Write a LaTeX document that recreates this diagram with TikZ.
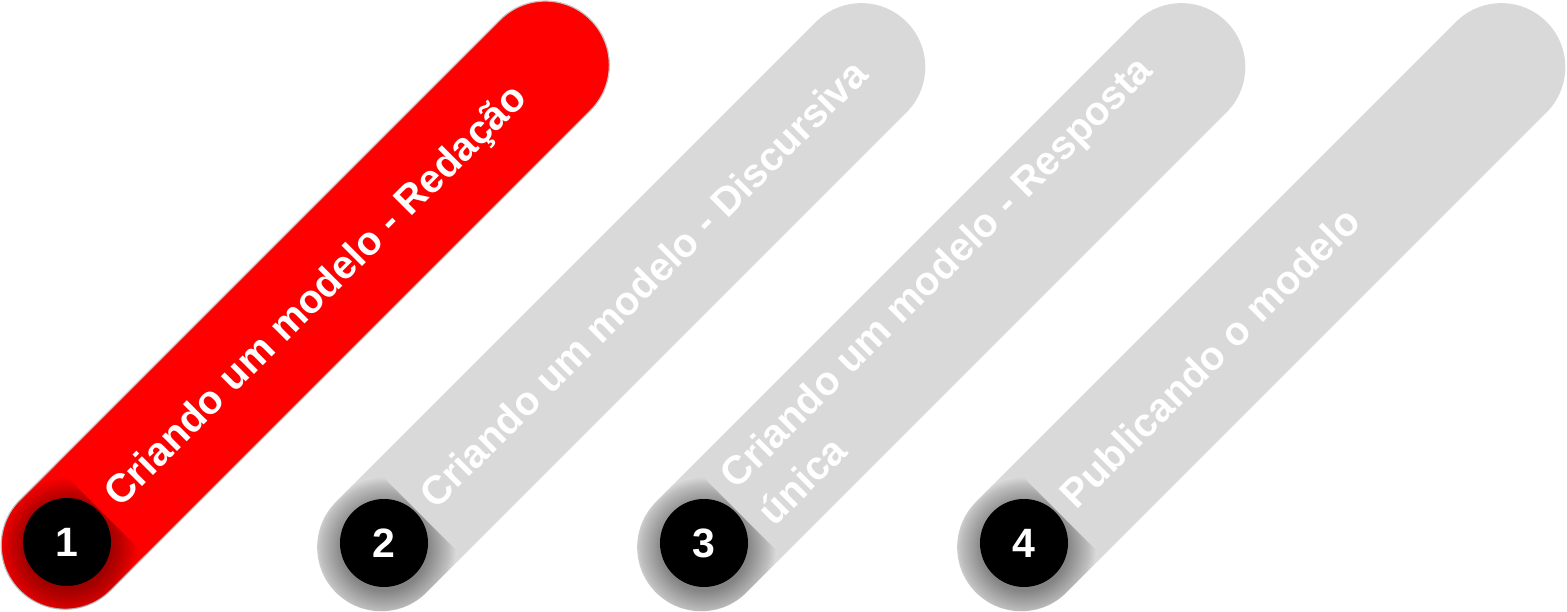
\documentclass[tikz,border=0pt]{standalone}
\usepackage{fontspec}
\setmainfont{Liberation Sans}
\definecolor{pillred}{HTML}{FF0000}
\definecolor{pillgray}{HTML}{D9D9D9}
\definecolor{pillborder}{HTML}{C4C4C4}
\tikzset{
  numcircle/.style={circle, fill=black, minimum size=88pt, inner sep=0pt, text=white,
    font=\bfseries\fontsize{41}{48}\selectfont},
  steptext/.style={rotate=45, anchor=base west, inner sep=0pt, text=white,
    font=\bfseries\fontsize{40}{48}\selectfont},
  shadowring/.style={fill=black, opacity=0.016}
}
\newcommand\pillitem[8]{%
  % #1,#2 circle centre; #3 colour; #4 pill extra style; #5 u-shift of pill; #6 number; #7 name
  \begin{scope}[shift={(#1,#2)}]
    \begin{scope}[rotate=45]
      \path[fill=#3, rounded corners=64pt, #4] (-69+#5,-65) rectangle (738+#5,63);
      \begin{scope}
        \clip[rounded corners=64pt] (-69+#5,-65) rectangle (738+#5,63);
        \foreach \k in {1,...,26}{
          \fill[shadowring] (-2.8,-4.6) circle ({42+1.1*\k});
        }
      \end{scope}
      \fill[#3] (46,-64) rectangle (674+#5,62);
      #8
    \end{scope}
    \node[numcircle] (#7) at (0,0) {#6};
  \end{scope}
}
\begin{document}
\begin{tikzpicture}[x=1pt,y=1pt]
\useasboundingbox (0,0) rectangle (1567,611);
\pillitem{67}{69}{pillred}{draw=pillborder, line width=1.2pt}{1.5}{1}{c1}{%
  \node[steptext] (t1) at (61,-14) {Criando um modelo - Redação};}
\pillitem{384}{68}{pillgray}{}{0}{2}{c2}{%
  \node[steptext] (t2) at (60,-14) {Criando um modelo - Discursiva};}
\pillitem{704}{68}{pillgray}{}{0}{3}{c3}{%
  \node[steptext] (t3) at (60,14) {Criando um modelo - Resposta};
  \node[steptext] (t3b) at (61,-39) {única};}
\pillitem{1024}{68}{pillgray}{}{0}{4}{c4}{%
  \node[steptext] (t4) at (60,-14) {Publicando o modelo};}
\end{tikzpicture}
\end{document}
